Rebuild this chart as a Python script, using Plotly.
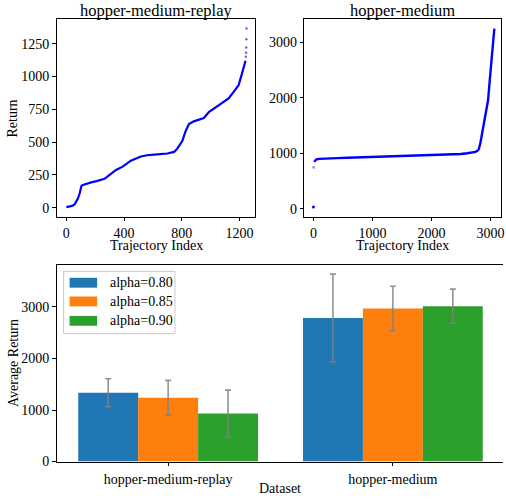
import plotly.graph_objects as go

# ---------------- data ----------------
# hopper-medium-replay: sorted trajectory returns
hmr_index = [0, 20, 40, 57, 70, 80, 92, 99, 105, 115, 140, 172, 210, 264, 300, 344, 390,
             447, 516, 560, 608, 700, 746, 765, 780, 803, 826, 849, 883, 952, 987, 1033,
             1090, 1124, 1159, 1193, 1216, 1232, 1241]
hmr_return = [5, 8, 14, 25, 48, 70, 108, 158, 167, 173, 183, 193, 203, 220, 250, 288, 313,
              358, 390, 400, 405, 413, 425, 445, 470, 508, 583, 638, 658, 683, 728, 765,
              808, 833, 883, 933, 1020, 1083, 1120]
hmr_tail_index = [1243, 1245, 1246, 1247, 1248]
hmr_tail_return = [1150, 1180, 1220, 1283, 1365]

# hopper-medium: sorted trajectory returns
hm_index = [11, 30, 50, 100, 190, 400, 584, 900, 1146, 1400, 1708, 2000, 2270, 2500,
            2607, 2700, 2747, 2780, 2803, 2831, 2860, 2899, 2933, 2961, 2989, 3017,
            3045, 3067]
hm_return = [846, 875, 888, 897, 905, 912, 917, 927, 935, 944, 953, 961, 970, 985,
             1000, 1012, 1024, 1045, 1071, 1189, 1367, 1604, 1811, 1959, 2314, 2669,
             2994, 3249]
hm_low_index = [0, 5]
hm_low_return = [30, 745]

# bar chart
datasets = ["hopper-medium-replay", "hopper-medium"]
alphas = ["alpha=0.80", "alpha=0.85", "alpha=0.90"]
avg_return = [[1335, 2784], [1240, 2969], [934, 3013]]
std_return = [[270, 852], [334, 433], [451, 331]]
bar_colors = ["#1f77b4", "#ff7f0e", "#2ca02c"]

# ---------------- layout helpers ----------------
W, H = 506, 504
FONT = "Liberation Serif"


def px(x):
    return x / W


def py(y):
    return 1 - y / H


fig = go.Figure()

# top-left scatter
fig.add_trace(go.Scatter(x=hmr_index, y=hmr_return, mode="lines",
                         line=dict(color="#0000ff", width=2.2),
                         xaxis="x", yaxis="y", showlegend=False))
fig.add_trace(go.Scatter(x=hmr_tail_index, y=hmr_tail_return, mode="markers",
                         marker=dict(color="rgba(0,0,255,0.6)", size=2.5),
                         xaxis="x", yaxis="y", showlegend=False))

# top-right scatter
fig.add_trace(go.Scatter(x=hm_index, y=hm_return, mode="lines",
                         line=dict(color="#0000ff", width=2.4),
                         xaxis="x2", yaxis="y2", showlegend=False))
fig.add_trace(go.Scatter(x=hm_low_index, y=hm_low_return, mode="markers",
                         marker=dict(color=["#0000ff", "rgba(0,0,255,0.4)"], size=3),
                         xaxis="x2", yaxis="y2", showlegend=False))

# bottom bars
for i, a in enumerate(alphas):
    fig.add_trace(go.Bar(
        x=datasets, y=avg_return[i], name=a,
        marker=dict(color=bar_colors[i], line=dict(width=0)),
        error_y=dict(type="data", array=std_return[i], visible=True,
                     color="rgba(128,128,128,0.85)", thickness=1.6, width=3),
        xaxis="x3", yaxis="y3", showlegend=False))

axis_common = dict(showline=True, linecolor="black", linewidth=1, ticks="outside",
                   ticklen=3.5, tickwidth=0.8, tickcolor="black", showgrid=False,
                   zeroline=False, ticklabeloverflow="allow",
                   tickfont=dict(family=FONT, size=14, color="black"))

fig.update_layout(
    width=W, height=H,
    margin=dict(l=0, r=0, t=0, b=0),
    paper_bgcolor="white", plot_bgcolor="white",
    barmode="group", bargap=0.2, bargroupgap=0,
    xaxis=dict(domain=[px(57), px(257)], range=[-67, 1310], anchor="y",
               tickvals=[0, 400, 800, 1200], mirror=True, ticklabelstandoff=0, **axis_common),
    yaxis=dict(domain=[py(220), py(19.7)], range=[-67, 1435], anchor="x",
               tickvals=[0, 250, 500, 750, 1000, 1250], mirror=True, **axis_common),
    xaxis2=dict(domain=[px(306), px(504)], range=[-157, 3180], anchor="y2",
                tickvals=[0, 1000, 2000, 3000], mirror=True, ticklabelstandoff=0, **axis_common),
    yaxis2=dict(domain=[py(220), py(19.7)], range=[-142, 3414], anchor="x2",
                tickvals=[0, 1000, 2000, 3000], mirror=True, **axis_common),
    xaxis3=dict(domain=[px(57), 1.0], range=[-0.496, 1.49], anchor="y3",
                type="category", mirror=True, ticklabelstandoff=1, **axis_common),
    yaxis3=dict(domain=[py(469), py(269)], range=[0, 3818], anchor="x3",
                tickvals=[0, 1000, 2000, 3000], mirror=False, **axis_common),
)

ann = []


def text(x, y, s, size=14, angle=0):
    ann.append(dict(x=px(x), y=py(y), xref="paper", yref="paper", text=s,
                    showarrow=False, textangle=angle, xanchor="center",
                    yanchor="middle", font=dict(family=FONT, size=size, color="black")))


text(157, 11, "hopper-medium-replay", 16.5)
text(405, 11, "hopper-medium", 16.5)
text(157, 249.5, "Trajectory Index")
text(405, 249.5, "Trajectory Index")
text(12.5, 120, "Return", angle=-90)
text(13, 369, "Average Return", angle=-90)
text(281.5, 496.5, "Dataset")

# manual legend (matplotlib style)
shapes = [dict(type="rect", xref="paper", yref="paper",
               x0=px(64), x1=px(176), y0=py(339), y1=py(275.7),
               line=dict(color="rgba(200,200,200,1)", width=1),
               fillcolor="rgba(255,255,255,0.8)", layer="above")]
row_y = [287.3, 306.3, 326]
for i, a in enumerate(alphas):
    shapes.append(dict(type="rect", xref="paper", yref="paper",
                       x0=px(70), x1=px(97.7), y0=py(row_y[i] + 5), y1=py(row_y[i] - 5),
                       line=dict(width=0), fillcolor=bar_colors[i], layer="above"))
    ann.append(dict(x=px(108.5), y=py(row_y[i]), xref="paper", yref="paper", text=a,
                    showarrow=False, xanchor="left", yanchor="middle",
                    font=dict(family=FONT, size=14, color="black")))

fig.update_layout(annotations=ann, shapes=shapes)

fig.write_html(
    "out.html", config={"displayModeBar": False},
    post_script=("var d=document.getElementById('{plot_id}');"
                 "d.style.position='fixed';d.style.left='0px';d.style.top='0px';"
                 "document.documentElement.style.overflow='hidden';"
                 "document.body.style.margin='0';document.body.style.overflow='hidden';"
                 "var w=window.innerWidth,h=window.innerHeight;"
                 "if(w>300&&h>300&&(w!==506||h!==504)){Plotly.relayout(d,{width:w,height:h});}"))
